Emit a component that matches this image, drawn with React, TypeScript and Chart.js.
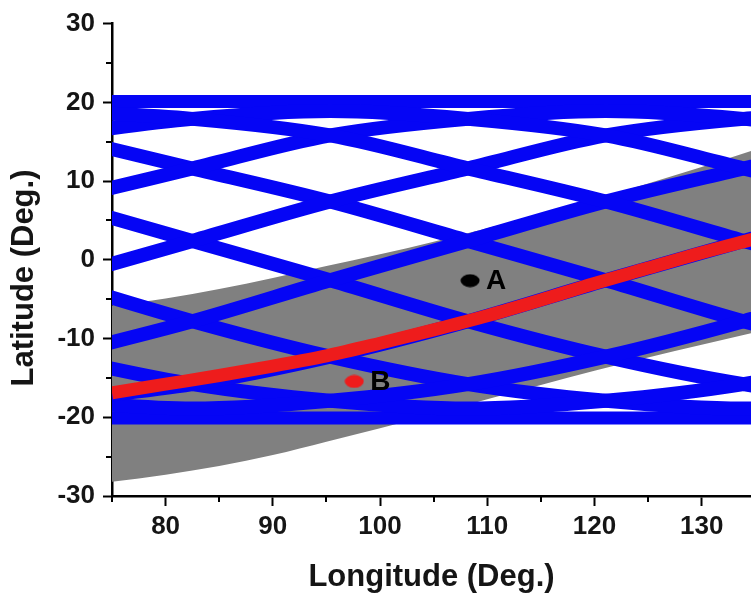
import { useEffect, useRef } from 'react';
import { Chart, registerables } from 'chart.js';

Chart.register(...registerables);

// Axis ranges
const lonMin = 75;
const lonMax = 134.6;
const latMin = -30;
const latMax = 30;

// Ground tracks: latitude of each track sampled at these longitudes
const trackLon = [69.65, 82.5, 95.35, 108.2, 121.05, 133.9, 146.75];
const trackLat: number[][] = [
  [18.9, 17.9, 15.8, 11.6, 7.4, 2.4, -2.6],
  [15.8, 17.9, 18.9, 17.9, 15.8, 11.6, 7.4],
  [7.4, 11.6, 15.8, 17.9, 18.9, 17.9, 15.8],
  [-2.6, 2.4, 7.4, 11.6, 15.8, 17.9, 18.9],
  [-12.3, -7.8, -2.6, 2.4, 7.4, 11.6, 15.8],
  [-17.9, -15.8, -12.3, -7.8, -2.6, 2.4, 7.4],
  [-17.9, -18.9, -17.9, -15.8, -12.3, -7.8, -2.6],
  [-12.3, -15.8, -17.9, -18.9, -17.9, -15.8, -12.3],
  [-2.6, -7.8, -12.3, -15.8, -17.9, -18.9, -17.9],
  [7.4, 2.4, -2.6, -7.8, -12.3, -15.8, -17.9],
  [15.8, 11.6, 7.4, 2.4, -2.6, -7.8, -12.3],
];

// Northern / southern limits of the tracks
const limitLon = [70, 140];
const limitLat = [20.1, -20.1];

// Shaded band
const bandLon = [75, 80, 85, 90, 95, 100, 105, 110, 115, 120, 125, 130, 135];
const bandUpper = [-5.8, -4.9, -3.7, -2.3, -0.8, 0.7, 2.3, 4.0, 5.8, 7.7, 9.7, 11.8, 14.0];
const bandLower = [-28.2, -27.3, -26.2, -24.8, -23.1, -21.4, -19.6, -17.7, -15.9, -14.1, -12.4, -10.8, -9.2];

// Red curve
const curveLon = [75, 80, 85, 90, 95, 100, 105, 110, 115, 120, 125, 130, 135];
const curveLat = [-16.9, -15.8, -14.7, -13.5, -12.2, -10.6, -8.9, -7.1, -5.1, -3.0, -1.05, 0.9, 2.7];

// Marked sites
const siteNames = ['A', 'B'];
const siteLon = [108.4, 97.6];
const siteLat = [-2.65, -15.45];
const siteColors = ['#000000', '#ee1c1c'];

const FONT = 'Liberation Sans, Arial, Helvetica, sans-serif';
const BLUE = '#0505f5';
const RED = '#ee1c1c';
const GRAY = '#808080';
const TEXT = '#151515';

function ellipseDot(color: string, w: number, h: number): HTMLCanvasElement {
  const c = document.createElement('canvas');
  c.width = w;
  c.height = h;
  const g = c.getContext('2d');
  if (g) {
    g.fillStyle = color;
    g.beginPath();
    g.ellipse(w / 2, h / 2, w / 2 - 0.5, h / 2 - 0.5, 0, 0, Math.PI * 2);
    g.fill();
  }
  return c;
}

const pairs = (xs: number[], ys: number[]) => xs.map((x, i) => ({ x, y: ys[i] }));

export default function App() {
  const canvasRef = useRef<HTMLCanvasElement | null>(null);

  useEffect(() => {
    const canvas = canvasRef.current;
    if (!canvas) return;

    const datasets: any[] = [];

    // shaded band (upper edge fills down to the lower edge)
    datasets.push({
      data: pairs(bandLon, bandUpper),
      borderWidth: 0,
      pointRadius: 0,
      backgroundColor: GRAY,
      fill: '+1',
      cubicInterpolationMode: 'monotone',
      order: 40,
    });
    datasets.push({
      data: pairs(bandLon, bandLower),
      borderWidth: 0,
      pointRadius: 0,
      fill: false,
      cubicInterpolationMode: 'monotone',
      order: 40,
    });

    // ground tracks
    trackLat.forEach((lats) => {
      datasets.push({
        data: pairs(trackLon, lats),
        borderColor: BLUE,
        borderWidth: 14,
        pointRadius: 0,
        fill: false,
        cubicInterpolationMode: 'monotone',
        order: 30,
      });
    });
    limitLat.forEach((lat) => {
      datasets.push({
        data: limitLon.map((x) => ({ x, y: lat })),
        borderColor: BLUE,
        borderWidth: 13,
        pointRadius: 0,
        fill: false,
        order: 30,
      });
    });

    // red curve
    datasets.push({
      data: pairs(curveLon, curveLat),
      borderColor: RED,
      borderWidth: 13,
      pointRadius: 0,
      fill: false,
      cubicInterpolationMode: 'monotone',
      order: 20,
    });

    // sites
    const siteIndex = datasets.length;
    datasets.push({
      data: pairs(siteLon, siteLat),
      showLine: false,
      pointStyle: siteColors.map((c) => ellipseDot(c, 20, 14)),
      pointRadius: 10,
      order: 10,
    });

    const axisDecor = {
      id: 'axisDecor',
      afterDraw(chart: any) {
        const { ctx } = chart;
        const xs = chart.scales.x;
        const ys = chart.scales.y;
        ctx.save();
        // minor ticks
        ctx.strokeStyle = '#000';
        ctx.lineWidth = 2;
        xs.ticks.forEach((t: any, i: number) => {
          if (t.value % 10 !== 0) {
            const px = Math.round(xs.getPixelForTick(i));
            ctx.beginPath();
            ctx.moveTo(px, xs.top);
            ctx.lineTo(px, xs.top + 6);
            ctx.stroke();
          }
        });
        ys.ticks.forEach((t: any, i: number) => {
          if (t.value % 10 !== 0) {
            const py = Math.round(ys.getPixelForTick(i));
            ctx.beginPath();
            ctx.moveTo(ys.right - 6, py);
            ctx.lineTo(ys.right, py);
            ctx.stroke();
          }
        });
        // vertical axis title
        ctx.translate(24, 278);
        ctx.rotate(-Math.PI / 2);
        ctx.font = `bold 31px ${FONT}`;
        ctx.fillStyle = TEXT;
        ctx.textAlign = 'center';
        ctx.textBaseline = 'middle';
        ctx.fillText('Latitude (Deg.)', 0, 0);
        ctx.restore();
      },
    };

    const siteLabels = {
      id: 'siteLabels',
      afterDatasetsDraw(chart: any) {
        const { ctx } = chart;
        const meta = chart.getDatasetMeta(siteIndex);
        ctx.save();
        ctx.font = `bold 28px ${FONT}`;
        ctx.fillStyle = '#000';
        ctx.textAlign = 'left';
        ctx.textBaseline = 'middle';
        meta.data.forEach((pt: any, i: number) => {
          ctx.fillText(siteNames[i], pt.x + 16, pt.y + 1);
        });
        ctx.restore();
      },
    };

    const tickFont = { family: FONT, size: 26, weight: 'bold' as const };
    const titleFont = { family: FONT, size: 31, weight: 'bold' as const };
    const majorColor = (c: any) => (c.tick && c.tick.value % 10 === 0 ? '#000' : 'rgba(0,0,0,0)');

    const chart = new Chart(canvas, {
      type: 'line',
      data: { datasets },
      options: {
        responsive: false,
        animation: false,
        events: [],
        layout: { autoPadding: false, padding: { top: 20, right: 0, bottom: 0, left: 0 } },
        plugins: {
          legend: { display: false },
          tooltip: { enabled: false },
        },
        scales: {
          x: {
            type: 'linear',
            min: lonMin,
            max: lonMax,
            afterFit: (s: any) => {
              s.height = 103;
            },
            border: { display: true, color: '#000', width: 2.5 },
            grid: {
              drawOnChartArea: false,
              drawTicks: true,
              tickLength: 10,
              tickWidth: 2,
              tickColor: majorColor,
            },
            ticks: {
              stepSize: 5,
              includeBounds: false,
              autoSkip: false,
              maxRotation: 0,
              padding: 5,
              color: TEXT,
              font: tickFont,
              callback: (v: any) => (Number(v) % 10 === 0 ? String(v) : ''),
            },
            title: {
              display: true,
              text: 'Longitude (Deg.)',
              color: TEXT,
              font: titleFont,
              padding: { top: 0, bottom: 3 },
            },
          },
          y: {
            type: 'linear',
            min: latMin,
            max: latMax,
            afterFit: (s: any) => {
              s.width = 112;
            },
            border: { display: true, color: '#000', width: 2.5 },
            grid: {
              drawOnChartArea: false,
              drawTicks: true,
              tickLength: 9,
              tickWidth: 2,
              tickColor: majorColor,
            },
            ticks: {
              stepSize: 5,
              autoSkip: false,
              padding: 8,
              color: TEXT,
              font: tickFont,
              callback: (v: any) => (Number(v) % 10 === 0 ? String(v) : ''),
            },
          },
        },
      },
      plugins: [axisDecor, siteLabels],
    });

    return () => {
      chart.destroy();
    };
  }, []);

  return (
    <div
      style={{
        position: 'fixed',
        left: 0,
        top: 0,
        width: 751,
        height: 599,
        background: '#ffffff',
      }}
    >
      <canvas ref={canvasRef} width={751} height={599} style={{ width: 751, height: 599, display: 'block' }} />
    </div>
  );
}
